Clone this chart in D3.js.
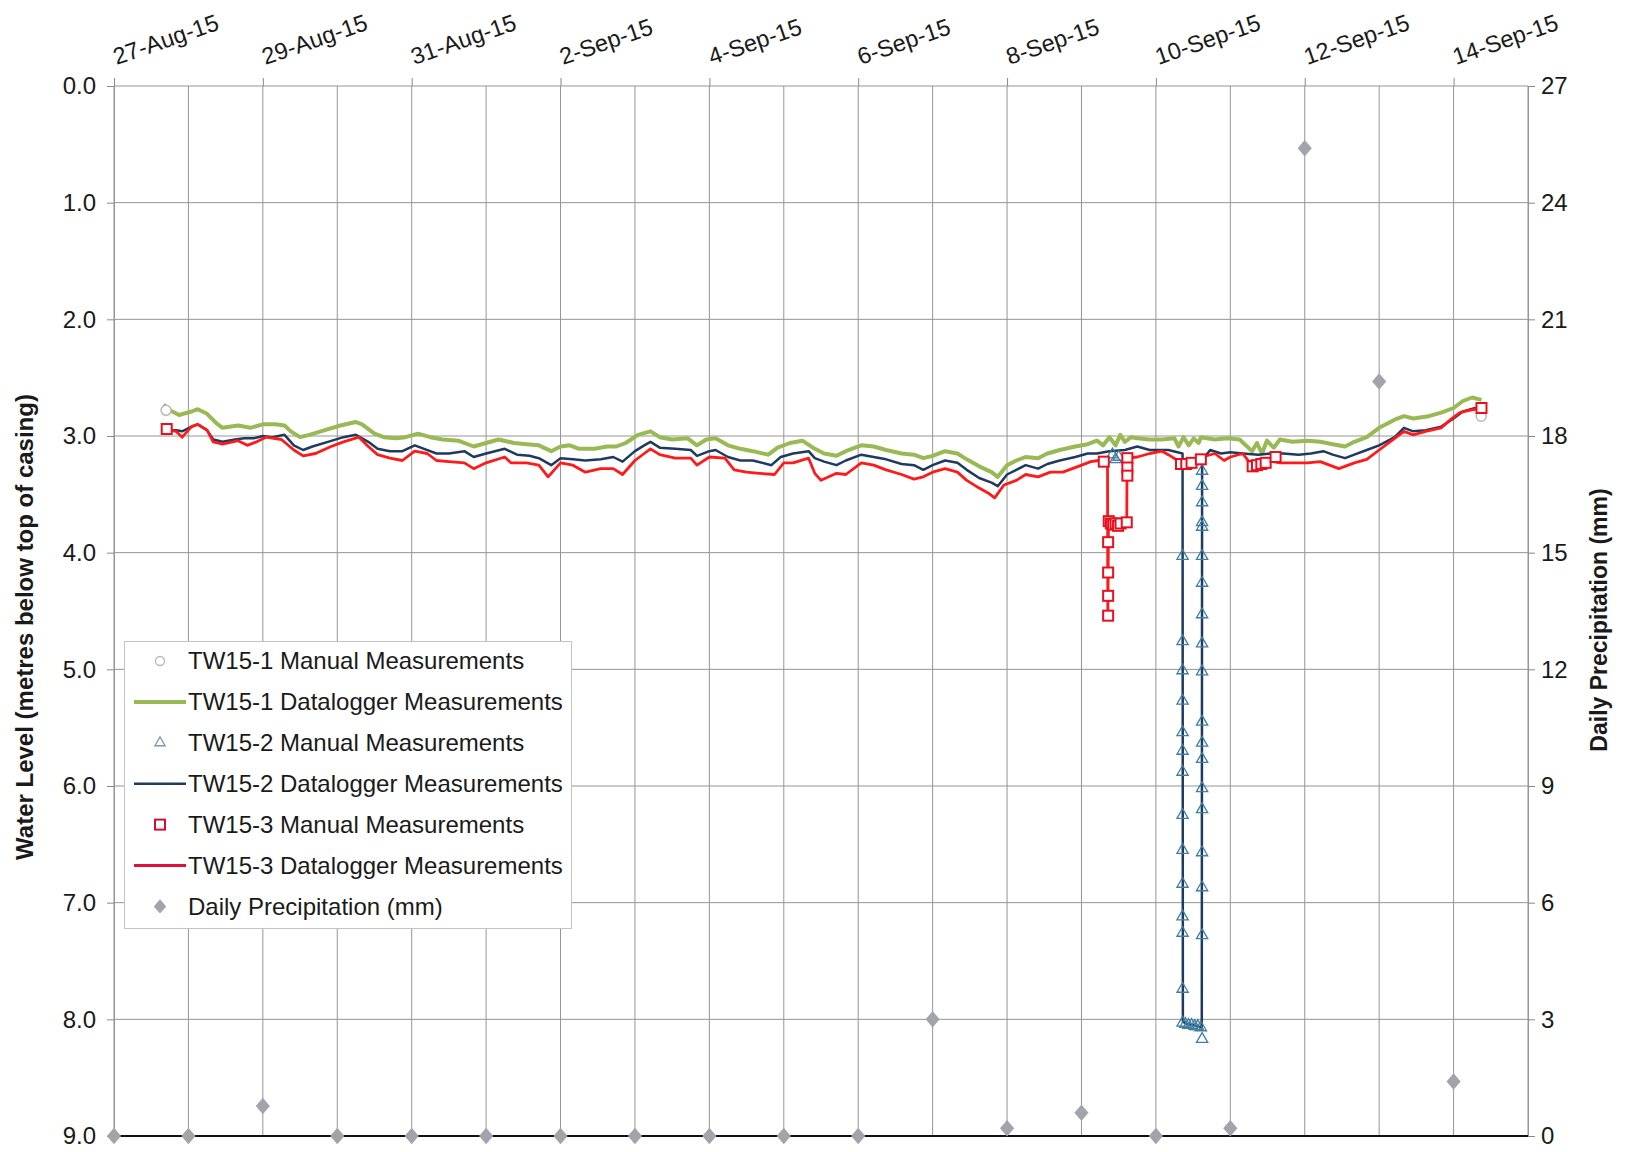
<!DOCTYPE html>
<html><head><meta charset="utf-8">
<script src="https://cdn.jsdelivr.net/npm/d3@7"></script>
<style>
body{margin:0;background:#fff}
svg{display:block}
text{font-family:"Liberation Sans",Arial,sans-serif;fill:#1a1a1a}
</style>
</head><body>
<svg id="chart" width="1627" height="1152"></svg>
<script>
// ---------------- DATA ----------------
// time values are hours after 27-Aug-2015 00:00
const startDate = "2015-08-27";
const endDate = "2015-09-15";
const dateTicks = ["2015-08-27","2015-08-29","2015-08-31","2015-09-02","2015-09-04","2015-09-06","2015-09-08","2015-09-10","2015-09-12","2015-09-14"];
const levelTicks = [0,1,2,3,4,5,6,7,8,9];
const precipTicks = [0,3,6,9,12,15,18,21,24,27];

const precipDates = ["2015-08-27","2015-08-28","2015-08-29","2015-08-30","2015-08-31","2015-09-01","2015-09-02","2015-09-03","2015-09-04","2015-09-05","2015-09-06","2015-09-07","2015-09-08","2015-09-09","2015-09-10","2015-09-11","2015-09-12","2015-09-13","2015-09-14"];
const precipValues = [0,0,0.77,0,0,0,0,0,0,0,0,3.0,0.2,0.6,0,0.2,25.4,19.4,1.4];

const tw1Logger = [[16,2.73],[18,2.78],[21,2.82],[25,2.79],[27,2.77],[30,2.81],[33,2.89],[35,2.93],[40,2.91],[44,2.93],[48,2.90],[52,2.90],[55,2.91],[57,2.96],[60,3.01],[63,2.99],[68,2.95],[73,2.91],[78,2.88],[80,2.90],[84,2.98],[87,3.01],[91,3.02],[94,3.01],[98,2.98],[102,3.01],[106,3.03],[111,3.04],[116,3.09],[120,3.06],[124,3.03],[129,3.06],[133,3.07],[137,3.08],[141,3.13],[144,3.09],[147,3.08],[150,3.11],[155,3.11],[159,3.09],[162,3.09],[165,3.06],[169,2.99],[173,2.96],[176,3.01],[180,3.03],[185,3.02],[188,3.08],[191,3.03],[194,3.02],[198,3.08],[202,3.11],[206,3.13],[211,3.16],[214,3.10],[218,3.06],[222,3.04],[226,3.11],[229,3.15],[233,3.17],[236,3.13],[241,3.08],[245,3.09],[249,3.12],[254,3.15],[258,3.16],[261,3.19],[264,3.17],[268,3.13],[272,3.15],[275,3.20],[279,3.26],[283,3.31],[285,3.35],[288,3.25],[291,3.21],[294,3.18],[298,3.19],[301,3.15],[305,3.12],[310,3.09],[314,3.07],[317,3.04],[319,3.08],[321,3.01],[323,3.08],[324.5,2.99],[326,3.05],[328,3.01],[330,3.02],[334,3.03],[338,3.03],[342,3.02],[343.3,3.09],[344.9,3.01],[346.6,3.08],[348.2,3.02],[349.8,3.06],[350.5,3.01],[355,3.03],[359,3.02],[363,3.03],[367,3.13],[368.6,3.06],[370.2,3.15],[371.8,3.04],[374,3.10],[376,3.03],[380,3.05],[385,3.04],[389,3.05],[393,3.07],[397,3.09],[400,3.05],[404,3.01],[408,2.93],[413,2.86],[416,2.83],[419,2.85],[424,2.83],[428,2.80],[432,2.76],[435,2.70],[438,2.67],[441,2.69]];

const tw2Logger = [[18,2.95],[20,2.95],[22,2.96],[25,2.92],[27,2.90],[30,2.95],[32,3.03],[35,3.05],[39,3.03],[42,3.02],[45,3.02],[48,3.00],[51,3.01],[55,2.99],[58,3.08],[61,3.12],[64,3.09],[69,3.05],[74,3.01],[78,2.99],[82,3.05],[85,3.11],[89,3.13],[93,3.13],[97,3.08],[100,3.11],[104,3.15],[108,3.15],[113,3.13],[116,3.18],[120,3.15],[126,3.11],[130,3.16],[134,3.17],[137,3.19],[141,3.25],[144,3.19],[148,3.20],[152,3.21],[157,3.20],[161,3.18],[164,3.22],[168,3.13],[171,3.08],[173,3.05],[176,3.10],[181,3.11],[186,3.12],[188,3.17],[192,3.13],[194,3.12],[198,3.18],[202,3.21],[206,3.21],[212,3.25],[215,3.18],[219,3.15],[224,3.13],[226,3.19],[229,3.22],[233,3.25],[236,3.21],[241,3.16],[245,3.18],[249,3.20],[254,3.24],[258,3.25],[261,3.29],[264,3.25],[268,3.21],[272,3.23],[275,3.29],[279,3.36],[283,3.40],[285,3.43],[288,3.33],[291,3.29],[294,3.25],[298,3.28],[301,3.24],[305,3.21],[310,3.18],[314,3.15],[317,3.15],[321,3.13],[326,3.12],[330,3.09],[334,3.12],[338,3.12],[340,3.12],[344.6,3.15],[344.7,8.02],[346,8.04],[348,8.05],[350.8,8.07],[350.9,3.21],[353.5,3.12],[357,3.15],[360,3.14],[364,3.15],[369,3.16],[373,3.15],[377,3.15],[382,3.16],[386,3.15],[390,3.13],[393,3.16],[397,3.19],[400,3.16],[404,3.12],[408,3.08],[413,3.01],[416,2.93],[419,2.96],[423,2.95],[428,2.92],[432,2.85],[435,2.79],[439,2.76],[441,2.75]];

const tw3Logger = [[18,2.95],[20,2.96],[22,3.01],[25,2.92],[27,2.90],[30,2.95],[32,3.05],[35,3.07],[40,3.04],[43,3.08],[46,3.05],[49,3.01],[54,3.03],[58,3.12],[61,3.17],[65,3.15],[70,3.09],[74,3.05],[79,3.01],[82,3.09],[85,3.16],[89,3.19],[93,3.21],[97,3.13],[101,3.15],[104,3.21],[108,3.22],[113,3.23],[116,3.28],[120,3.23],[126,3.18],[128,3.23],[133,3.23],[137,3.25],[140,3.35],[144,3.23],[148,3.25],[152,3.31],[157,3.28],[161,3.28],[164,3.33],[168,3.21],[171,3.15],[173,3.11],[176,3.16],[181,3.19],[186,3.19],[188,3.25],[192,3.18],[197,3.19],[200,3.29],[204,3.31],[208,3.32],[213,3.33],[216,3.23],[219,3.23],[224,3.19],[226,3.32],[228,3.38],[233,3.32],[236,3.33],[241,3.23],[245,3.25],[249,3.29],[254,3.33],[258,3.37],[261,3.35],[264,3.31],[268,3.28],[272,3.31],[275,3.38],[278,3.43],[282,3.49],[284,3.53],[287,3.42],[291,3.38],[294,3.33],[298,3.35],[302,3.31],[306,3.31],[311,3.26],[315,3.22],[317.5,3.21],[320.4,3.22],[320.5,4.54],[320.7,3.75],[322,3.76],[324,3.75],[326.6,3.75],[326.7,3.19],[330,3.18],[334,3.15],[338,3.13],[340,3.16],[343,3.21],[347,3.23],[351,3.18],[355,3.15],[358,3.21],[360,3.18],[364,3.15],[366,3.22],[372,3.21],[376,3.23],[380,3.23],[385,3.23],[389,3.22],[392,3.25],[395,3.28],[400,3.23],[404,3.20],[408,3.12],[413,3.02],[416,2.96],[419,2.99],[423,2.96],[428,2.93],[431,2.86],[434,2.80],[437,2.78],[441,2.76]];

const tw1Manual = [[16.8,2.78],[440.9,2.83]];
const tw2Manual = [[322,3.16],[323,3.20],[324,3.18],
  [344.6,4.03],[344.6,4.76],[344.6,5.01],[344.6,5.27],[344.6,5.54],[344.6,5.70],[344.6,5.88],[344.6,6.25],[344.6,6.55],[344.6,6.84],[344.6,7.12],[344.6,7.26],[344.6,7.74],[344.6,8.03],
  [345.5,8.04],[346.5,8.05],[347.5,8.05],[348.5,8.06],[349.5,8.06],[350.5,8.07],
  [350.9,3.30],[350.9,3.43],[350.9,3.57],[350.9,3.74],[350.9,3.78],[350.9,4.03],[350.9,4.26],[350.9,4.53],[350.9,4.78],[350.9,5.02],[350.9,5.45],[350.9,5.63],[350.9,5.77],[350.9,6.02],[350.9,6.20],[350.9,6.57],[350.9,6.87],[350.9,7.28],[350.9,8.17]];
const tw3Manual = [[17,2.94],
  [319.2,3.22],[320.6,3.91],[320.6,4.17],[320.6,4.37],[320.6,4.54],
  [320.8,3.73],[321.5,3.75],[322.2,3.76],[323,3.75],[323.8,3.77],[324.6,3.75],[326.6,3.74],
  [326.8,3.19],[326.8,3.27],[326.8,3.34],
  [344.1,3.24],[345.8,3.24],[347.5,3.23],[350.5,3.20],
  [367.2,3.26],[368.6,3.25],[370,3.24],[371.4,3.23],[374.6,3.18],
  [441,2.76]];

const legendLabels = ["TW15-1 Manual Measurements","TW15-1 Datalogger Measurements","TW15-2 Manual Measurements","TW15-2 Datalogger Measurements","TW15-3 Manual Measurements","TW15-3 Datalogger Measurements","Daily Precipitation (mm)"];

// ---------------- CHART ----------------
const svg = d3.select("#chart");
const L = 114, R = 1528, T = 86, B = 1136;
const parse = d3.utcParse("%Y-%m-%d");
const t0 = parse(startDate), tEnd = parse(endDate);
const toDate = h => new Date(t0.getTime() + h * 3600000);

const x = d3.scaleUtc().domain([t0, tEnd]).range([L, R]);
const y = d3.scaleLinear().domain([0, 9]).range([T, B]);
const yP = d3.scaleLinear().domain([0, 27]).range([B, T]);

const colors = {g:"#98b954", b:"#1f3a5f", r:"#ff1a1a", tri:"#3f7fa0", sq:"#e8101e", circ:"#b8b8b8", p:"#a3a3ab"};

// grid
const grid = svg.append("g");
grid.selectAll("line.v").data(d3.utcDay.range(t0, d3.utcDay.offset(tEnd, 1)))
  .join("line").attr("x1", d => x(d)).attr("x2", d => x(d)).attr("y1", T).attr("y2", B)
  .attr("stroke", "#959595").attr("stroke-width", 1);
grid.selectAll("line.h").data(levelTicks.slice(0, -1))
  .join("line").attr("x1", L).attr("x2", R).attr("y1", d => y(d)).attr("y2", d => y(d))
  .attr("stroke", "#959595").attr("stroke-width", 1);
svg.append("line").attr("x1", L).attr("x2", R).attr("y1", B).attr("y2", B).attr("stroke", "#111").attr("stroke-width", 2.2);

// axes
const fmt = d3.utcFormat("%-d-%b-%y");
const ax = svg.append("g").attr("transform", `translate(0,${T})`)
  .call(d3.axisTop(x).tickValues(dateTicks.map(parse)).tickSize(8).tickFormat(fmt));
ax.select(".domain").remove();
ax.selectAll(".tick line").attr("stroke", "#888");
ax.selectAll("text").attr("x", 0).attr("y", 0).attr("dy", 0)
  .attr("text-anchor", "start").attr("font-size", 23.5)
  .attr("transform", "translate(2,-21) rotate(-19)");

const ay = svg.append("g").attr("transform", `translate(${L},0)`)
  .call(d3.axisLeft(y).tickValues(levelTicks).tickSize(7).tickPadding(11).tickFormat(d3.format(".1f")));
ay.select(".domain").attr("stroke", "#959595");
ay.selectAll(".tick line").attr("stroke", "#888");
ay.selectAll("text").attr("font-size", 24);

const ayr = svg.append("g").attr("transform", `translate(${R},0)`)
  .call(d3.axisRight(yP).tickValues(precipTicks).tickSize(7).tickPadding(6));
ayr.select(".domain").attr("stroke", "#959595");
ayr.selectAll(".tick line").attr("stroke", "#888");
ayr.selectAll("text").attr("font-size", 24);

svg.append("text").attr("transform", "translate(33,627) rotate(-90)")
  .attr("text-anchor", "middle").attr("font-size", 24).attr("font-weight", "bold")
  .text("Water Level (metres below top of casing)");
svg.append("text").attr("transform", "translate(1607,620) rotate(-90)")
  .attr("text-anchor", "middle").attr("font-size", 23).attr("font-weight", "bold")
  .text("Daily Precipitation (mm)");

// lines
const line = d3.line().x(d => x(toDate(d[0]))).y(d => y(d[1]));
svg.append("path").datum(tw1Logger).attr("d", line).attr("fill", "none")
  .attr("stroke", colors.g).attr("stroke-width", 4).attr("stroke-linejoin", "round");
svg.append("path").datum(tw2Logger).attr("d", line).attr("fill", "none")
  .attr("stroke", colors.b).attr("stroke-width", 2.5).attr("stroke-linejoin", "round");
svg.append("path").datum(tw3Logger).attr("d", line).attr("fill", "none")
  .attr("stroke", colors.r).attr("stroke-width", 2.8).attr("stroke-linejoin", "round");

// manual markers
svg.append("g").selectAll("circle").data(tw1Manual).join("circle")
  .attr("cx", d => x(toDate(d[0]))).attr("cy", d => y(d[1])).attr("r", 5)
  .attr("fill", "#fff").attr("stroke", colors.circ).attr("stroke-width", 1.5);
const tri = d3.symbol(d3.symbolTriangle, 55);
svg.append("g").selectAll("path").data(tw2Manual).join("path")
  .attr("d", tri).attr("transform", d => `translate(${x(toDate(d[0]))},${y(d[1])})`)
  .attr("fill", "none").attr("stroke", colors.tri).attr("stroke-width", 1.3);
svg.append("g").selectAll("rect").data(tw3Manual).join("rect")
  .attr("x", d => x(toDate(d[0])) - 5).attr("y", d => y(d[1]) - 5).attr("width", 10).attr("height", 10)
  .attr("fill", "#fff").attr("stroke", colors.sq).attr("stroke-width", 2);

// precipitation (Excel-style rhombus marker)
const rhombus = {draw(ctx, size) { const w = Math.sqrt(size) * 0.62, h = Math.sqrt(size) * 0.72;
  ctx.moveTo(0, -h); ctx.lineTo(w, 0); ctx.lineTo(0, h); ctx.lineTo(-w, 0); ctx.closePath(); }};
const dia = d3.symbol(rhombus, 130);
svg.append("g").selectAll("path").data(precipDates.map((d, i) => [parse(d), precipValues[i]])).join("path")
  .attr("d", dia).attr("transform", d => `translate(${x(d[0])},${yP(d[1])})`)
  .attr("fill", colors.p);

// legend
const lg = svg.append("g");
lg.append("rect").attr("x", 124.5).attr("y", 641.5).attr("width", 447).attr("height", 287)
  .attr("fill", "#fff").attr("stroke", "#c4c4c4").attr("stroke-width", 1);
const rowY = i => 661 + i * 40.9;
lg.selectAll("text").data(legendLabels).join("text")
  .attr("x", 188).attr("y", (d, i) => rowY(i)).attr("dy", "0.35em").attr("font-size", 24).text(d => d);
lg.append("circle").attr("cx", 160).attr("cy", rowY(0)).attr("r", 4.5).attr("fill", "#fff").attr("stroke", colors.circ).attr("stroke-width", 1.3);
lg.append("line").attr("x1", 134).attr("x2", 186).attr("y1", rowY(1)).attr("y2", rowY(1)).attr("stroke", colors.g).attr("stroke-width", 4);
lg.append("path").attr("d", d3.symbol(d3.symbolTriangle, 45)).attr("transform", `translate(160,${rowY(2)})`).attr("fill", "none").attr("stroke", "#7a9aa8").attr("stroke-width", 1.3);
lg.append("line").attr("x1", 134).attr("x2", 186).attr("y1", rowY(3)).attr("y2", rowY(3)).attr("stroke", colors.b).attr("stroke-width", 2.5);
lg.append("rect").attr("x", 155).attr("y", rowY(4) - 5).attr("width", 10).attr("height", 10).attr("fill", "#fff").attr("stroke", "#d0103a").attr("stroke-width", 2);
lg.append("line").attr("x1", 134).attr("x2", 186).attr("y1", rowY(5)).attr("y2", rowY(5)).attr("stroke", "#e0103a").attr("stroke-width", 2.8);
lg.append("path").attr("d", d3.symbol(rhombus, 100)).attr("transform", `translate(160,${rowY(6)})`).attr("fill", colors.p);
</script>
</body></html>
